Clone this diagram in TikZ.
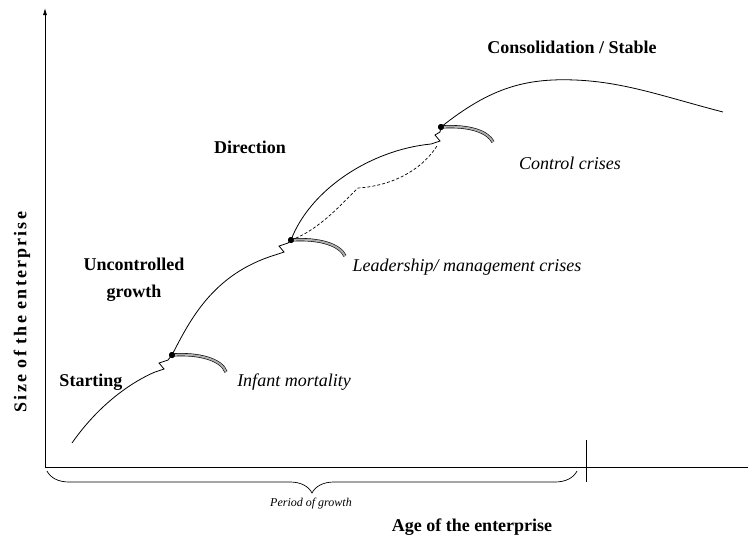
\documentclass[tikz,border=0pt]{standalone}
\usepackage{fontspec}
\setmainfont{Liberation Serif}
\usetikzlibrary{arrows.meta, decorations.pathreplacing}

\begin{document}
\begin{tikzpicture}[x=1pt, y=-1pt, line width=0.8pt,
	phase/.style={font=\fontsize{18}{27}\selectfont\bfseries, align=center},
	crisis/.style={font=\fontsize{18}{20}\selectfont\itshape},
	crisisarc/.style={line width=0.6pt, double=gray!65, double distance=2pt},
	kink/.style={circle, fill, inner sep=0pt, minimum size=6pt}]
	\useasboundingbox (0,0) rectangle (748,539);
	
	\coordinate (origin) at (45,467);
	\coordinate (ytop) at (45,8);
	\coordinate (xend) at (748,467);
	\coordinate (ticktop) at (586,440);
	\coordinate (tickbot) at (586,482);
	
	\draw[-{Latex[length=7pt, width=4pt]}] (origin) -- (ytop);
	\draw (origin) -- (xend);
	\draw (ticktop) -- (tickbot);
	
	\draw[decorate, decoration={brace, mirror, amplitude=22pt}, line width=0.7pt] (47,471) -- (577,471);
	
	\node[kink] (infantdot) at (172,355) {};
	\node[kink] (leaddot) at (291,240) {};
	\node[kink] (controldot) at (441,127) {};
	
	\coordinate (s0) at (72,443);
	\coordinate (z1) at (155,372);
	\coordinate (z2) at (275,255);
	\coordinate (z3) at (431,144);
	\coordinate (dashbend) at (358,188);
	\coordinate (dashend) at (437,146);
	\coordinate (peak) at (575,80);
	\coordinate (tail) at (723,112);
	
	% growth curve with the crises kinks
	\draw (s0) .. controls (95,410) and (125,385) .. (z1) -- ++(9,-3) -- ++(-5,-6) -- ++(9,-3) -- (infantdot.center);
	\draw (infantdot.center) .. controls (190,320) and (213,274) .. (z2) -- ++(9,-3) -- ++(-5,-6) -- ++(9,-3) -- (leaddot.center);
	\draw (leaddot.center) .. controls (310,190) and (370,150) .. (z3) -- ++(9,-3) -- ++(-5,-6) -- ++(5,-3) -- (controldot.center);
	\draw[dashed, dash pattern=on 3pt off 2pt, line width=0.7pt] (leaddot.center) .. controls (320,230) and (345,200) .. (dashbend) .. controls (390,186) and (420,172) .. (dashend);
	\draw (controldot.center) .. controls (490,88) and (525,78) .. (peak) .. controls (625,82) and (665,97) .. (tail);
	
	\draw[crisisarc] (infantdot.center) .. controls (200,353) and (222,360) .. (226,372);
	\draw[crisisarc] (leaddot.center) .. controls (320,238) and (340,245) .. (345,256);
	\draw[crisisarc] (controldot.center) .. controls (470,125) and (488,132) .. (493,142);
	
	\node[kink] at (infantdot) {};
	\node[kink] at (leaddot) {};
	\node[kink] at (controldot) {};
	
	\node[phase] (consol) at (572,47) {Consolidation / Stable};
	\node[phase] (direction) at (250,147) {Direction};
	\node[phase] (uncontrolled) at (134,280) {Uncontrolled\\growth};
	\node[phase] (starting) at (91,382) {Starting};
	
	\node[crisis] (infant) at (294,382) {Infant mortality};
	\node[crisis] (leadership) at (467,267) {Leadership/ management crises};
	\node[crisis] (control) at (570,163) {Control crises};
	
	\node[font=\fontsize{12}{14}\selectfont\itshape] (period) at (311,504) {Period of growth};
	\node[phase] (age) at (472,527) {Age of the enterprise};
	\node[phase, rotate=90, font=\fontsize{18}{20}\selectfont\bfseries\addfontfeature{LetterSpace=12}] (size) at (22,312) {Size of the enterprise};
\end{tikzpicture}
\end{document}
